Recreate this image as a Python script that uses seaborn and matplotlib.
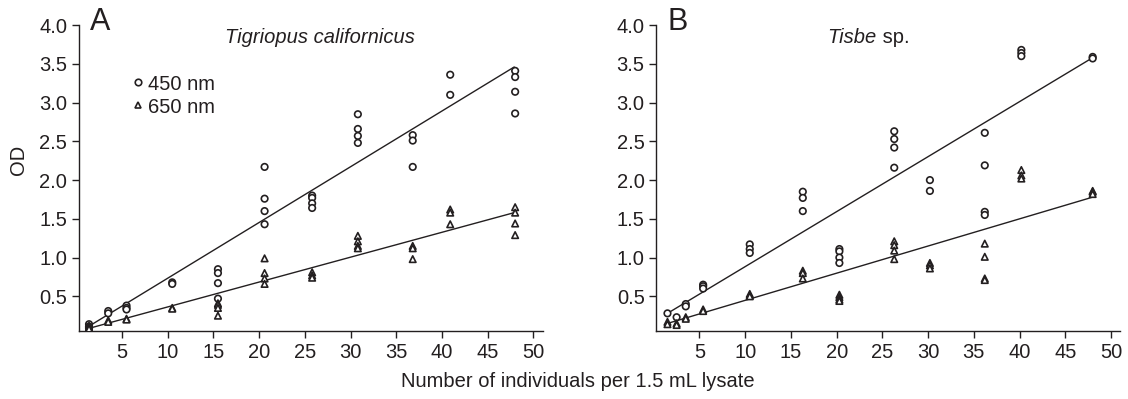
import matplotlib
matplotlib.use("Agg")
import matplotlib.pyplot as plt
import seaborn as sns
import pandas as pd

# ---------------- data ----------------
# Panel A: Tigriopus californicus
a450_x = [1.4, 1.4, 1.4, 3.5, 3.5, 5.5, 5.5, 5.5, 10.5, 10.5,
          15.5, 15.5, 15.5, 15.5, 20.6, 20.6, 20.6, 20.6,
          25.8, 25.8, 25.8, 25.8, 30.8, 30.8, 30.8, 30.8,
          36.8, 36.8, 36.8, 40.9, 40.9, 48.0, 48.0, 48.0, 48.0]
a450_y = [0.14, 0.11, 0.09, 0.31, 0.28, 0.38, 0.35, 0.33, 0.68, 0.66,
          0.85, 0.80, 0.67, 0.47, 2.17, 1.76, 1.60, 1.43,
          1.80, 1.77, 1.70, 1.64, 2.85, 2.66, 2.57, 2.48,
          2.58, 2.51, 2.17, 3.36, 3.10, 3.41, 3.33, 3.14, 2.86]
a650_x = [1.4, 1.4, 1.4, 3.5, 3.5, 5.5, 5.5, 10.5, 10.5,
          15.5, 15.5, 15.5, 15.5, 20.6, 20.6, 20.6, 20.6,
          25.8, 25.8, 25.8, 30.8, 30.8, 30.8, 30.8,
          36.8, 36.8, 36.8, 40.9, 40.9, 40.9, 48.0, 48.0, 48.0, 48.0]
a650_y = [0.12, 0.10, 0.08, 0.19, 0.17, 0.21, 0.20, 0.35, 0.34,
          0.41, 0.39, 0.35, 0.25, 0.99, 0.80, 0.73, 0.66,
          0.81, 0.77, 0.74, 1.28, 1.21, 1.15, 1.12,
          1.15, 1.12, 0.98, 1.62, 1.58, 1.43, 1.65, 1.58, 1.44, 1.29]

# Panel B: Tisbe sp.
b450_x = [1.5, 2.5, 3.5, 3.5, 5.4, 5.4, 5.4, 10.5, 10.5, 10.5,
          16.3, 16.3, 16.3, 20.3, 20.3, 20.3, 20.3,
          26.3, 26.3, 26.3, 26.3, 30.2, 30.2,
          36.2, 36.2, 36.2, 36.2, 40.2, 40.2, 40.2, 48.0, 48.0]
b450_y = [0.28, 0.23, 0.40, 0.37, 0.65, 0.63, 0.60, 1.17, 1.11, 1.06,
          1.85, 1.77, 1.60, 1.11, 1.08, 1.00, 0.93,
          2.63, 2.53, 2.42, 2.16, 2.00, 1.86,
          2.61, 2.19, 1.59, 1.55, 3.68, 3.64, 3.60, 3.59, 3.57]
b650_x = [1.5, 1.5, 2.5, 2.5, 3.5, 3.5, 5.4, 5.4, 10.5, 10.5, 10.5,
          16.3, 16.3, 16.3, 20.3, 20.3, 20.3, 20.3,
          26.3, 26.3, 26.3, 26.3, 30.2, 30.2, 30.2,
          36.2, 36.2, 36.2, 36.2, 40.2, 40.2, 40.2, 48.0, 48.0, 48.0]
b650_y = [0.17, 0.14, 0.15, 0.13, 0.23, 0.21, 0.33, 0.31, 0.53, 0.51, 0.50,
          0.83, 0.80, 0.73, 0.52, 0.49, 0.46, 0.44,
          1.21, 1.16, 1.09, 0.98, 0.93, 0.90, 0.86,
          1.18, 1.01, 0.73, 0.71, 2.13, 2.06, 2.02, 1.86, 1.85, 1.82]

# regression lines (end points)
a_fit_x = [1.2, 47.9]
a450_fit_y = [0.10, 3.46]
a650_fit_y = [0.08, 1.58]
b_fit_x = [1.5, 48.0]
b450_fit_y = [0.28, 3.58]
b650_fit_y = [0.15, 1.78]

wavelengths = ["450 nm", "650 nm"]
panel_letters = ["A", "B"]
panel_titles = ["Tigriopus californicus", "Tisbe"]
y_ticks = [0.5, 1.0, 1.5, 2.0, 2.5, 3.0, 3.5, 4.0]
x_ticks = [5, 10, 15, 20, 25, 30, 35, 40, 45, 50]
x_label = "Number of individuals per 1.5 mL lysate"
y_label = "OD"

# ---------------- styling ----------------
sns.set_theme(style="ticks")
INK = "#231f20"
FS = 14.5
plt.rcParams["font.family"] = ["Liberation Sans", "DejaVu Sans"]
plt.rcParams.update({
    "axes.edgecolor": INK, "axes.linewidth": 1.0,
    "xtick.color": INK, "ytick.color": INK,
    "xtick.labelcolor": INK, "ytick.labelcolor": INK,
    "xtick.major.size": 5, "ytick.major.size": 5,
    "xtick.major.width": 1.0, "ytick.major.width": 1.0,
    "xtick.labelsize": FS, "ytick.labelsize": FS,
})

fig = plt.figure(figsize=(11.28, 3.99), dpi=100)
axA = fig.add_axes([0.070, 0.170, 0.411, 0.767])
axB = fig.add_axes([0.582, 0.170, 0.411, 0.767])

def make_df(x450, y450, x650, y650):
    return pd.DataFrame({
        "x": list(x450) + list(x650),
        "od": list(y450) + list(y650),
        "wl": [wavelengths[0]] * len(x450) + [wavelengths[1]] * len(x650),
    })

panels = [
    (axA, make_df(a450_x, a450_y, a650_x, a650_y), a_fit_x, a450_fit_y, a650_fit_y),
    (axB, make_df(b450_x, b450_y, b650_x, b650_y), b_fit_x, b450_fit_y, b650_fit_y),
]

for i, (ax, df, fx, f450, f650) in enumerate(panels):
    for fy in (f450, f650):
        sns.lineplot(x=fx, y=fy, ax=ax, color=INK, lw=1.0, legend=False)
    sns.scatterplot(data=df, x="x", y="od", style="wl",
                    markers={wavelengths[0]: "o", wavelengths[1]: "^"},
                    facecolor="white", edgecolor=INK, linewidth=1.2, s=22,
                    ax=ax, legend=(i == 0), zorder=3)
    ax.set_xlim(0.3, 51.0)
    ax.set_ylim(0.05, 4.0)
    ax.set_xticks(x_ticks)
    ax.set_yticks(y_ticks)
    ax.set_yticklabels([f"{v:.1f}" for v in y_ticks])
    ax.set_xlabel("")
    ax.set_ylabel("")
    sns.despine(ax=ax)
    ax.text(0.024, 0.984, panel_letters[i], transform=ax.transAxes,
            fontsize=22, color=INK, ha="left", va="baseline")

axA.text(0.52, 0.958, panel_titles[0], transform=axA.transAxes,
         fontsize=FS, style="italic", color=INK, ha="center", va="center")
axB.text(0.475, 0.958, panel_titles[1], transform=axB.transAxes,
         fontsize=FS, style="italic", color=INK, ha="right", va="center")
axB.text(0.475, 0.958, " sp.", transform=axB.transAxes,
         fontsize=FS, color=INK, ha="left", va="center")

leg = axA.legend(loc="upper left", bbox_to_anchor=(0.10, 0.865), frameon=False,
                 fontsize=FS, handlelength=0.5, handletextpad=0.25,
                 labelspacing=0.2, borderaxespad=0, markerscale=1.0)
for t in leg.get_texts():
    t.set_color(INK)

fig.text(0.512, 0.043, x_label, fontsize=FS, color=INK, ha="center", va="center")
fig.text(0.016, 0.60, y_label, fontsize=FS, color=INK, ha="center", va="center",
         rotation=90)

fig.savefig("out.png", dpi=100)
